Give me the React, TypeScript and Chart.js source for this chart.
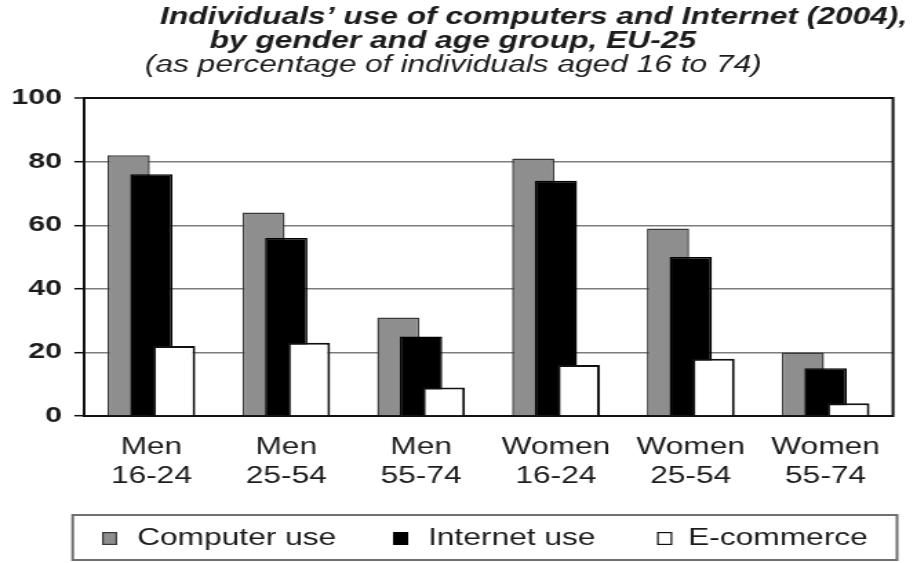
import { useEffect, useRef } from "react";
import { Chart, registerables } from "chart.js";

Chart.register(...registerables);

// ---- data -------------------------------------------------------------
const groups: string[][] = [
  ["Men", "16-24"],
  ["Men", "25-54"],
  ["Men", "55-74"],
  ["Women", "16-24"],
  ["Women", "25-54"],
  ["Women", "55-74"],
];
const seriesNames = ["Computer use", "Internet use", "E-commerce"];
const computerUse = [82, 64, 31, 81, 59, 20];
const internetUse = [76, 56, 25, 74, 50, 15];
const eCommerce = [22, 23, 9, 16, 18, 4];
const yTickValues = [0, 20, 40, 60, 80, 100];
const titleLines = [
  "Individuals’ use of computers and Internet (2004),",
  "by gender and age group, EU-25",
  "(as percentage of individuals aged 16 to 74)",
];

// ---- layout -----------------------------------------------------------
// The figure is laid out in a narrower box and widened horizontally,
// which gives the broad, stretched lettering of the printed chart.
const OUT_W = 917;
const OUT_H = 563;
const BOX_W = 665;
const WIDEN = OUT_W / BOX_W;
const FONT = '"Liberation Sans", Arial, Helvetica, sans-serif';
const INK = "#1c1c1c";

// Paint the series in their natural order so later bars overlap earlier ones.
const paintInSeriesOrder = {
  id: "paintInSeriesOrder",
  beforeDatasetsDraw(chart: any) {
    const { ctx, chartArea } = chart;
    // right-hand frame of the plot area
    ctx.save();
    ctx.strokeStyle = "#111";
    ctx.lineWidth = 2;
    ctx.beginPath();
    ctx.moveTo(chartArea.right, chartArea.top - 1);
    ctx.lineTo(chartArea.right, chartArea.bottom + 1);
    ctx.stroke();
    ctx.restore();
    const metas = chart.getSortedVisibleDatasetMetas();
    for (const meta of metas) meta.controller.draw();
    return false;
  },
};

const titleBlock = {
  id: "titleBlock",
  afterDraw(chart: any) {
    const { ctx } = chart;
    const placement = [
      { x: 116, y: 24, font: `italic bold 23px ${FONT}` },
      { x: 152, y: 48, font: `italic bold 23px ${FONT}` },
      { x: 105, y: 72, font: `italic 23px ${FONT}` },
    ];
    ctx.save();
    ctx.fillStyle = INK;
    ctx.textAlign = "left";
    ctx.textBaseline = "alphabetic";
    titleLines.forEach((line, i) => {
      const p = placement[i];
      ctx.font = p.font;
      ctx.fillText(line, p.x, p.y);
    });
    ctx.restore();
  },
};

const framedLegend = {
  id: "framedLegend",
  afterDraw(chart: any) {
    const { ctx } = chart;
    const box = { x: 52.7, y: 515, w: 597.8, h: 45 };
    ctx.save();
    ctx.strokeStyle = "#707070";
    ctx.lineWidth = 2;
    ctx.strokeRect(box.x, box.y, box.w, box.h);

    const swatchX = [74, 285, 476.5];
    const textX = [99.4, 310.4, 499];
    ctx.font = `23px ${FONT}`;
    ctx.textAlign = "left";
    ctx.textBaseline = "alphabetic";
    chart.data.datasets.forEach((ds: any, i: number) => {
      ctx.fillStyle = ds.backgroundColor;
      ctx.fillRect(swatchX[i], 532, 11, 13);
      ctx.strokeStyle = ds.borderColor;
      ctx.lineWidth = 1.2;
      ctx.strokeRect(swatchX[i] + 0.6, 532.6, 9.8, 11.8);
      ctx.fillStyle = INK;
      ctx.fillText(ds.label, textX[i], 545);
    });
    ctx.restore();
  },
};

export default function App() {
  const canvasRef = useRef<HTMLCanvasElement | null>(null);

  useEffect(() => {
    const canvas = canvasRef.current;
    if (!canvas) return;

    const chart = new Chart(canvas, {
      type: "bar",
      data: {
        labels: groups,
        datasets: [
          {
            label: seriesNames[0],
            data: computerUse,
            backgroundColor: "#8e8e8e",
            borderColor: "#3a3a3a",
            borderWidth: 1.5,
          },
          {
            label: seriesNames[1],
            data: internetUse,
            backgroundColor: "#000000",
            borderColor: "#000000",
            borderWidth: 1.5,
          },
          {
            label: seriesNames[2],
            data: eCommerce,
            backgroundColor: "#ffffff",
            borderColor: "#111111",
            borderWidth: 2,
          },
        ],
      },
      options: {
        responsive: false,
        animation: false,
        devicePixelRatio: 1,
        categoryPercentage: 0.506,
        barPercentage: 1.86,
        layout: { padding: { top: 98, right: 17.4, bottom: 0, left: 0 } },
        plugins: {
          legend: { display: false },
          title: { display: false },
          tooltip: { enabled: false },
        },
        scales: {
          x: {
            afterFit: (scale: any) => {
              scale.height = OUT_H - 416;
            },
            grid: { display: false, drawTicks: false },
            border: { display: true, color: "#111", width: 2 },
            ticks: {
              autoSkip: false,
              maxRotation: 0,
              minRotation: 0,
              padding: 17,
              color: INK,
              font: { family: FONT, size: 23, lineHeight: 1.26 },
            },
          },
          y: {
            min: yTickValues[0],
            max: yTickValues[yTickValues.length - 1],
            afterFit: (scale: any) => {
              scale.width = 60.9;
            },
            afterBuildTicks: (scale: any) => {
              scale.ticks = yTickValues.map((v) => ({ value: v }));
            },
            grid: {
              drawTicks: true,
              tickLength: 7,
              tickColor: "#111",
              tickWidth: 1.5,
              color: (c: any) => (c.tick && c.tick.value === 100 ? "#111" : "#7c7c7c"),
              lineWidth: (c: any) => (c.tick && c.tick.value === 100 ? 2 : 1.4),
            },
            border: { display: true, color: "#111", width: 2 },
            ticks: {
              padding: 9,
              color: INK,
              font: { family: FONT, size: 22, weight: "bold" },
            },
          },
        },
      },
      plugins: [paintInSeriesOrder, titleBlock, framedLegend],
    });

    return () => chart.destroy();
  }, []);

  return (
    <div
      style={{
        position: "absolute",
        left: 0,
        top: 0,
        width: OUT_W,
        height: OUT_H,
        overflow: "hidden",
        background: "#fff",
      }}
    >
      <canvas
        ref={canvasRef}
        width={BOX_W}
        height={OUT_H}
        style={{
          display: "block",
          width: BOX_W,
          height: OUT_H,
          transform: `scaleX(${WIDEN})`,
          transformOrigin: "0 0",
        }}
      />
    </div>
  );
}
